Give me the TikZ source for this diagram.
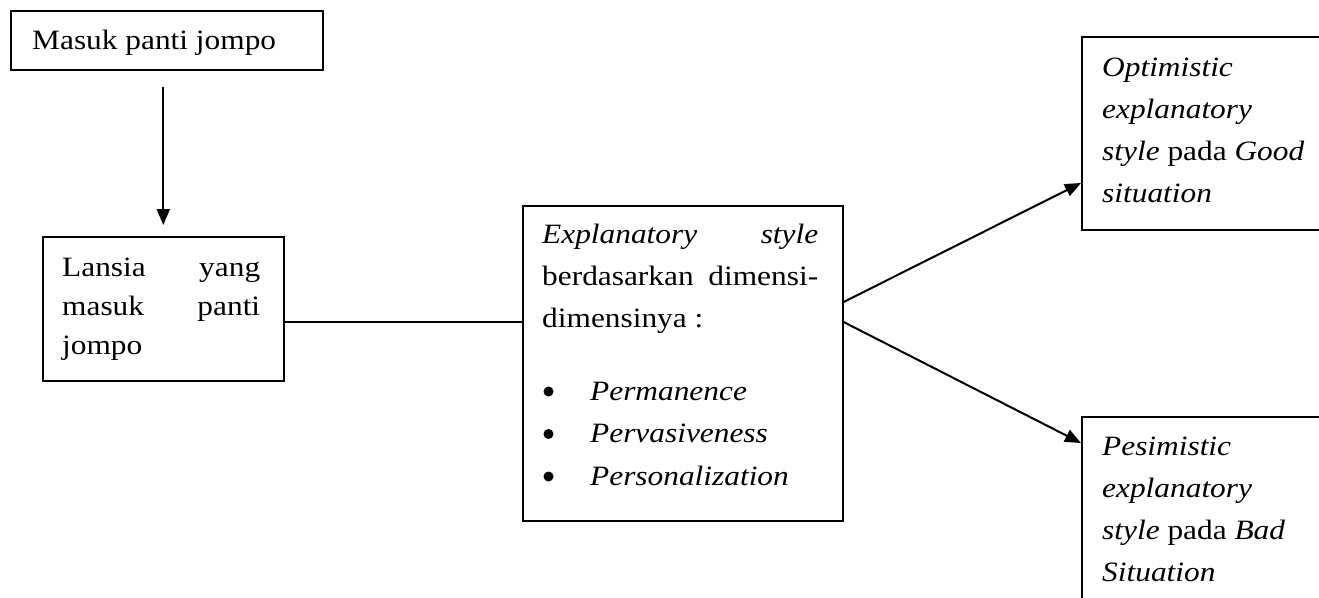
\documentclass[tikz,border=0pt]{standalone}
\usepackage{fontspec}
\setmainfont{Liberation Serif}[FakeStretch=1.12]
\usetikzlibrary{arrows.meta}
\begin{document}
\begin{tikzpicture}[x=1pt,y=-1pt,
  box/.style={draw, line width=1.6pt, rectangle, inner sep=0pt, anchor=north west},
  txt/.style={anchor=base west, inner sep=0pt, font=\fontsize{28}{42}\selectfont},
  ln/.style={line width=2pt},
  bul/.style={fill=black},
  arr/.style={line width=2pt, -{Triangle[length=16pt,width=13pt]}}]
\useasboundingbox (0,0) rectangle (1319,597);
\clip (0,0) rectangle (1319,597);
% boxes
\node[box, minimum width=312pt, minimum height=59pt] (b1) at (10,10) {};
\node[box, minimum width=241pt, minimum height=144pt] (b2) at (42,236) {};
\node[box, minimum width=320pt, minimum height=315pt] (b3) at (522,205) {};
\node[box, minimum width=300pt, minimum height=193pt] (b4) at (1081,36) {};
\node[box, minimum width=300pt, minimum height=260pt] (b5) at (1081,416) {};
% texts
\node[txt] (t1) at (32,49) {Masuk panti jompo};
\node[txt] (t2) at (62,276) {\vtop{\baselineskip=39pt
  \hbox to 198pt{Lansia\hfill yang}\hbox to 198pt{masuk\hfill panti}\hbox{jompo}}};
\node[txt] (t3) at (542,243) {\vtop{\baselineskip=42pt
  \hbox to 276pt{\itshape Explanatory\hfill style}\hbox to 276pt{berdasarkan\hfill dimensi-}\hbox{dimensinya :}}};
\node[txt] (t3c) at (590,400) {\vtop{\baselineskip=42.5pt
  \hbox{\itshape Permanence}\hbox{\itshape Pervasiveness}\hbox{\itshape Personalization}}};
\fill[bul] (548.5,391.5) circle (5pt);
\fill[bul] (548.5,434) circle (5pt);
\fill[bul] (548.5,476.5) circle (5pt);
\node[txt] (t4) at (1102,76) {\vtop{\baselineskip=42pt
  \hbox{\itshape Optimistic}\hbox{\itshape explanatory}\hbox{\itshape style\/\upshape{} pada \itshape Good}\hbox{\itshape situation}}};
\node[txt] (t5) at (1102,455) {\vtop{\baselineskip=42pt
  \hbox{\itshape Pesimistic}\hbox{\itshape explanatory}\hbox{\itshape style\/\upshape{} pada \itshape Bad}\hbox{\itshape Situation}}};
% connectors
\draw[arr, shorten <=16pt, shorten >=11pt] (b1.south -| b2.north) -- (b2.north);
\draw[ln] (b2.east |- 0,322) -- (b3.west |- 0,322);
\draw[arr] (b3.east |- 0,302) -- (b4.west |- 0,183);
\draw[arr] (b3.east |- 0,322) -- (b5.west |- 0,443);
\end{tikzpicture}
\end{document}
